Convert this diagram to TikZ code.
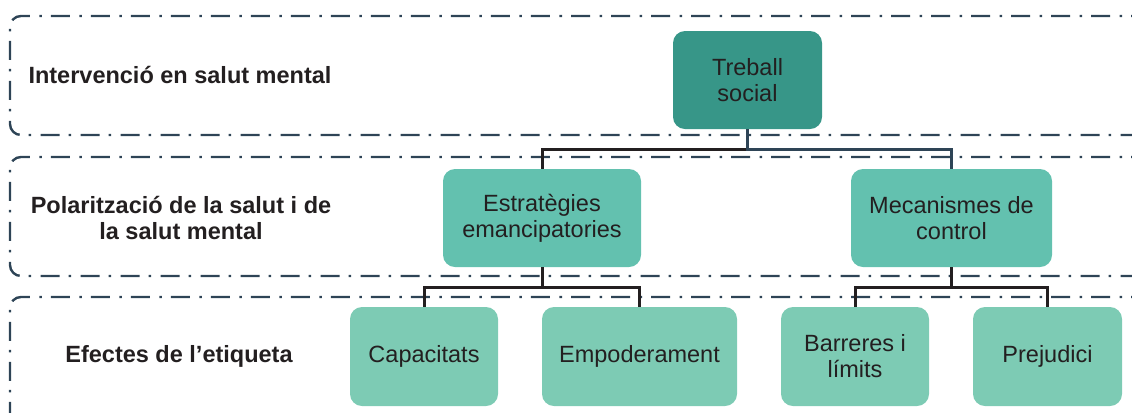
\documentclass[tikz,border=0pt]{standalone}
\usepackage{fontspec}
\setmainfont{Liberation Sans}
\definecolor{bandline}{HTML}{2E4456}
\definecolor{txt}{HTML}{231F20}
\definecolor{fillA}{HTML}{379688}
\definecolor{fillB}{HTML}{63C1AF}
\definecolor{fillC}{HTML}{7DCBB4}
\tikzset{
  band/.style={draw=bandline, line width=2.4bp, dash pattern=on 19bp off 9bp on 2.5bp off 9.5bp, rounded corners=11bp},
  bandlabel/.style={text=txt, font=\bfseries\fontsize{23.5bp}{25.5bp}\selectfont, align=center},
  box/.style={rounded corners=12bp, inner sep=0pt, text=txt, font=\fontsize{23.5bp}{26bp}\selectfont, align=center},
  connK/.style={draw=txt, line width=3bp},
  connS/.style={draw=bandline, line width=3bp},
}
\begin{document}
\begin{tikzpicture}[x=1bp, y=-1bp]
\useasboundingbox (0,0) rectangle (1132,412);
\begin{scope}
\clip (0,0) rectangle (1132,412);
\draw[band] (1150,16) -- (10,16) -- (10,135) -- (1150,135);
\draw[band] (1150,157) -- (10,157) -- (10,276) -- (1150,276);
\draw[band] (1150,297) -- (10,297) -- (10,440);
\end{scope}

\node[bandlabel] (l1) at (180,75) {Intervenció en salut mental};
\node[bandlabel] (l2) at (181,218) {Polarització de la salut i de\\la salut mental};
\node[bandlabel] (l3) at (179,356) {Efectes de l’etiqueta};

\node[box, fill=fillA, minimum width=149bp, minimum height=98bp] (tre) at (747.5,80) {Treball\\social};
\node[box, fill=fillB, minimum width=198bp, minimum height=98bp] (est) at (542,218) {Estratègies\\emancipatories};
\node[box, fill=fillB, minimum width=201bp, minimum height=98bp] (mec) at (951.5,218) {Mecanismes de\\control};
\node[box, fill=fillC, minimum width=148bp, minimum height=99bp] (cap) at (424,356.5) {Capacitats};
\node[box, fill=fillC, minimum width=195bp, minimum height=99bp] (emp) at (639.5,356.5) {Empoderament};
\node[box, fill=fillC, minimum width=148bp, minimum height=99bp] (bar) at (855,356.5) {Barreres i\\límits};
\node[box, fill=fillC, minimum width=149bp, minimum height=99bp] (pre) at (1047.5,356.5) {Prejudici};

\draw[connK] ([yshift=-20bp]tre.south) -| (est.north);
\draw[connS] (tre.south) -- ([yshift=-20bp]tre.south) -| (mec.north);
\draw[connK] (est.south) -- ([yshift=-20bp]est.south) -| (cap.north);
\draw[connK] ([yshift=-20bp]est.south) -| (emp.north);
\draw[connK] (mec.south) -- ([yshift=-20bp]mec.south) -| (bar.north);
\draw[connK] ([yshift=-20bp]mec.south) -| (pre.north);
\end{tikzpicture}
\end{document}
